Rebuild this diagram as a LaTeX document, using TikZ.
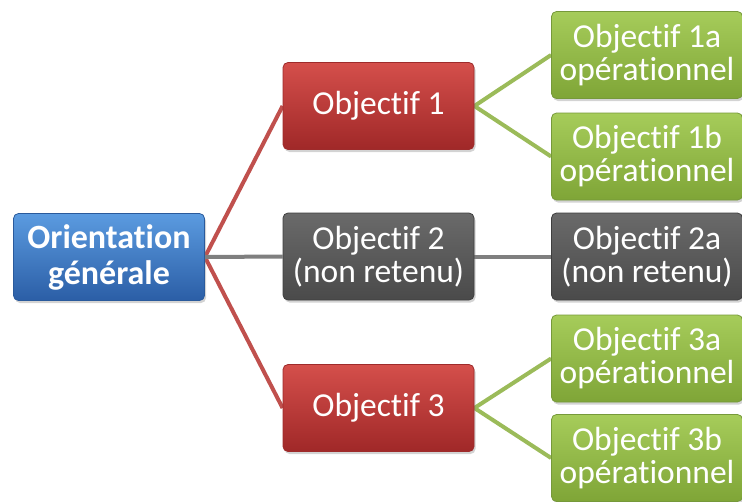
\documentclass[tikz,border=0pt]{standalone}
\usepackage{fontspec}
\setmainfont{Carlito}[RawFeature={-liga;-dlig;-clig}]
\usetikzlibrary{shadows,backgrounds}
\definecolor{bluetop}{HTML}{5B9BE0}
\definecolor{bluebot}{HTML}{2B5EA6}
\definecolor{blueedge}{HTML}{2A5A9C}
\definecolor{redtop}{HTML}{D44F4B}
\definecolor{redbot}{HTML}{A02828}
\definecolor{rededge}{HTML}{9E2B2B}
\definecolor{graytop}{HTML}{6A6A6A}
\definecolor{graybot}{HTML}{4A4A4A}
\definecolor{grayedge}{HTML}{3F3F3F}
\definecolor{greentop}{HTML}{A6CC5A}
\definecolor{greenbot}{HTML}{7FA537}
\definecolor{greenedge}{HTML}{76993A}
\definecolor{redline}{HTML}{C0504D}
\definecolor{grayline}{HTML}{7F7F7F}
\definecolor{greenline}{HTML}{9BBB59}
\tikzset{
  box/.style={rectangle, rounded corners=5pt, minimum width=191pt, minimum height=87pt,
    inner sep=0pt, text=white, align=center, font=\fontsize{33.5}{33}\selectfont,
    line width=0.8pt,
    drop shadow={shadow xshift=1.5pt, shadow yshift=-2.5pt, opacity=0.35}},
  bluebox/.style={box, top color=bluetop, bottom color=bluebot, draw=blueedge, font=\fontsize{34}{36}\selectfont\bfseries},
  redbox/.style={box, top color=redtop, bottom color=redbot, draw=rededge},
  graybox/.style={box, top color=graytop, bottom color=graybot, draw=grayedge},
  greenbox/.style={box, top color=greentop, bottom color=greenbot, draw=greenedge},
  redlink/.style={draw=redline, line width=4pt},
  graylink/.style={draw=grayline, line width=4pt},
  greenlink/.style={draw=greenline, line width=4pt},
}
\begin{document}
\begin{tikzpicture}[x=1pt,y=-1pt]
\useasboundingbox (0,0) rectangle (742,501);
\node[bluebox] (og) at (109,257) {Orientation\\générale};
\node[redbox] (o1) at (378.5,106) {Objectif 1};
\node[graybox] (o2) at (378.5,256.5) {Objectif 2\\(non retenu)};
\node[redbox] (o3) at (378.5,408) {Objectif 3};
\node[greenbox] (o1a) at (647,55) {Objectif 1a\\opérationnel};
\node[greenbox] (o1b) at (647,156.5) {Objectif 1b\\opérationnel};
\node[graybox] (o2a) at (647,256.5) {Objectif 2a\\(non retenu)};
\node[greenbox] (o3a) at (647,358.5) {Objectif 3a\\opérationnel};
\node[greenbox] (o3b) at (647,458) {Objectif 3b\\opérationnel};
\begin{scope}[on background layer]
\draw[redlink] (og.east) -- (o1.west);
\draw[redlink] (og.east) -- (o3.west);
\draw[graylink] (og.east) -- (o2.west);
\draw[greenlink] (o1.east) -- (o1a.west);
\draw[greenlink] (o1.east) -- (o1b.west);
\draw[graylink] (o2.east) -- (o2a.west);
\draw[greenlink] (o3.east) -- (o3a.west);
\draw[greenlink] (o3.east) -- (o3b.west);
\end{scope}
\end{tikzpicture}
\end{document}
